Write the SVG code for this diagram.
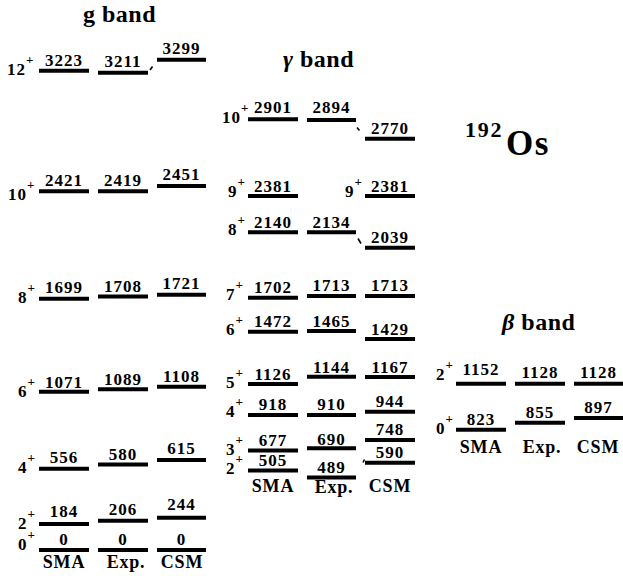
<svg xmlns="http://www.w3.org/2000/svg" width="623" height="576" viewBox="0 0 623 576">
<style>
text{font-family:"Liberation Serif","Times New Roman",serif;font-weight:bold;fill:#000}
.n{font-size:17px;letter-spacing:1px;text-anchor:middle}
.s{font-size:17px;letter-spacing:1px}
.p{font-size:13px}
.lab{font-size:18px;letter-spacing:0.8px;text-anchor:middle}
.t{font-size:24px;letter-spacing:0.5px}
.gr{font-style:italic}
line.l{stroke:#000;stroke-width:4}
line.d{stroke:#000;stroke-width:1.6}
</style>
<rect width="623" height="576" fill="#fff"/>

<g id="titles">
<text class="t" x="83" y="22">g band</text>
<text class="t" x="283" y="67"><tspan class="gr">γ</tspan> band</text>
<text class="t" x="502" y="330"><tspan class="gr">β</tspan> band</text>
<text x="465" y="137" style="font-size:22px;letter-spacing:1.8px">192</text>
<text x="506" y="155" style="font-size:35px;letter-spacing:1.5px">Os</text>
</g>

<!-- g band -->
<g id="g-spins">
<text class="s" x="7" y="75">12<tspan class="p" dy="-11">+</tspan></text>
<text class="s" x="8" y="200">10<tspan class="p" dy="-11">+</tspan></text>
<text class="s" x="18" y="302.7">8<tspan class="p" dy="-11">+</tspan></text>
<text class="s" x="18" y="396.7">6<tspan class="p" dy="-11">+</tspan></text>
<text class="s" x="18" y="473">4<tspan class="p" dy="-11">+</tspan></text>
<text class="s" x="18" y="529">2<tspan class="p" dy="-11">+</tspan></text>
<text class="s" x="18" y="550">0<tspan class="p" dy="-11">+</tspan></text>
</g>
<g id="g-sma">
<line class="l" x1="39" x2="89" y1="70.8" y2="70.8"/><text class="n" x="64" y="65.7">3223</text>
<line class="l" x1="39" x2="89" y1="191.3" y2="191.3"/><text class="n" x="64" y="185.7">2421</text>
<line class="l" x1="39" x2="89" y1="298.7" y2="298.7"/><text class="n" x="64" y="293.3">1699</text>
<line class="l" x1="39" x2="89" y1="391.7" y2="391.7"/><text class="n" x="64" y="387.7">1071</text>
<line class="l" x1="39" x2="89" y1="468.7" y2="468.7"/><text class="n" x="64" y="463">556</text>
<line class="l" x1="39" x2="89" y1="524" y2="524"/><text class="n" x="64" y="517">184</text>
<line class="l" x1="39" x2="89" y1="550" y2="550"/><text class="n" x="64" y="545">0</text>
<text class="lab" x="64" y="568">SMA</text>
</g>
<g id="g-exp">
<line class="l" x1="98" x2="148" y1="72.7" y2="72.7"/><text class="n" x="123" y="66.7">3211</text>
<line class="l" x1="98" x2="148" y1="191.3" y2="191.3"/><text class="n" x="123" y="185.7">2419</text>
<line class="l" x1="98" x2="148" y1="296.5" y2="296.5"/><text class="n" x="123" y="291.7">1708</text>
<line class="l" x1="98" x2="148" y1="389.3" y2="389.3"/><text class="n" x="123" y="385">1089</text>
<line class="l" x1="98" x2="148" y1="464.5" y2="464.5"/><text class="n" x="123" y="460">580</text>
<line class="l" x1="98" x2="148" y1="520.7" y2="520.7"/><text class="n" x="123" y="515">206</text>
<line class="l" x1="98" x2="148" y1="550" y2="550"/><text class="n" x="123" y="545">0</text>
<text class="lab" x="126" y="568">Exp.</text>
</g>
<g id="g-csm">
<line class="l" x1="157" x2="206" y1="59.8" y2="59.8"/><text class="n" x="181.5" y="54.3">3299</text>
<line class="l" x1="157" x2="206" y1="186" y2="186"/><text class="n" x="181.5" y="180">2451</text>
<line class="l" x1="157" x2="206" y1="294.8" y2="294.8"/><text class="n" x="181.5" y="289.3">1721</text>
<line class="l" x1="157" x2="206" y1="386.8" y2="386.8"/><text class="n" x="181.5" y="381.7">1108</text>
<line class="l" x1="157" x2="206" y1="460" y2="460"/><text class="n" x="181.5" y="454">615</text>
<line class="l" x1="157" x2="206" y1="517.7" y2="517.7"/><text class="n" x="181.5" y="510">244</text>
<line class="l" x1="157" x2="206" y1="550" y2="550"/><text class="n" x="181.5" y="545">0</text>
<text class="lab" x="182" y="568">CSM</text>
</g>

<!-- gamma band -->
<g id="gamma-spins">
<text class="s" x="222" y="123">10<tspan class="p" dy="-11">+</tspan></text>
<text class="s" x="228" y="197">9<tspan class="p" dy="-11">+</tspan></text>
<text class="s" x="345" y="197">9<tspan class="p" dy="-11">+</tspan></text>
<text class="s" x="228" y="235">8<tspan class="p" dy="-11">+</tspan></text>
<text class="s" x="226" y="300">7<tspan class="p" dy="-11">+</tspan></text>
<text class="s" x="226" y="335">6<tspan class="p" dy="-11">+</tspan></text>
<text class="s" x="226" y="388">5<tspan class="p" dy="-11">+</tspan></text>
<text class="s" x="226" y="417">4<tspan class="p" dy="-11">+</tspan></text>
<text class="s" x="226" y="455">3<tspan class="p" dy="-11">+</tspan></text>
<text class="s" x="226" y="474">2<tspan class="p" dy="-11">+</tspan></text>
</g>
<g id="gamma-sma">
<line class="l" x1="248" x2="298" y1="119.3" y2="119.3"/><text class="n" x="273" y="113">2901</text>
<line class="l" x1="248" x2="298" y1="196" y2="196"/><text class="n" x="273" y="192">2381</text>
<line class="l" x1="248" x2="298" y1="232.3" y2="232.3"/><text class="n" x="273" y="228">2140</text>
<line class="l" x1="248" x2="298" y1="297.7" y2="297.7"/><text class="n" x="273" y="293">1702</text>
<line class="l" x1="248" x2="298" y1="331.7" y2="331.7"/><text class="n" x="273" y="327">1472</text>
<line class="l" x1="248" x2="298" y1="384" y2="384"/><text class="n" x="273" y="380">1126</text>
<line class="l" x1="248" x2="298" y1="415" y2="415"/><text class="n" x="273" y="410">918</text>
<line class="l" x1="248" x2="298" y1="450.5" y2="450.5"/><text class="n" x="273" y="446">677</text>
<line class="l" x1="248" x2="298" y1="470.5" y2="470.5"/><text class="n" x="273" y="466">505</text>
<text class="lab" x="273" y="492">SMA</text>
</g>
<g id="gamma-exp">
<line class="l" x1="307" x2="356" y1="120" y2="120"/><text class="n" x="331.5" y="113">2894</text>
<line class="l" x1="307" x2="356" y1="232.3" y2="232.3"/><text class="n" x="331.5" y="228">2134</text>
<line class="l" x1="307" x2="356" y1="296" y2="296"/><text class="n" x="331.5" y="291">1713</text>
<line class="l" x1="307" x2="356" y1="331" y2="331"/><text class="n" x="331.5" y="327">1465</text>
<line class="l" x1="307" x2="356" y1="376.7" y2="376.7"/><text class="n" x="331.5" y="373">1144</text>
<line class="l" x1="307" x2="356" y1="415" y2="415"/><text class="n" x="331.5" y="410">910</text>
<line class="l" x1="307" x2="356" y1="448.3" y2="448.3"/><text class="n" x="331.5" y="444.5">690</text>
<line class="l" x1="307" x2="356" y1="477.5" y2="477.5"/><text class="n" x="331.5" y="472.5">489</text>
<text class="lab" x="334" y="493">Exp.</text>
</g>
<g id="gamma-csm">
<line class="l" x1="365" x2="415" y1="138.7" y2="138.7"/><text class="n" x="390" y="134">2770</text>
<line class="l" x1="365" x2="415" y1="196" y2="196"/><text class="n" x="390" y="192">2381</text>
<line class="l" x1="365" x2="415" y1="247.7" y2="247.7"/><text class="n" x="390" y="243">2039</text>
<line class="l" x1="365" x2="415" y1="296" y2="296"/><text class="n" x="390" y="291">1713</text>
<line class="l" x1="365" x2="415" y1="339" y2="339"/><text class="n" x="390" y="335">1429</text>
<line class="l" x1="365" x2="415" y1="377" y2="377"/><text class="n" x="390" y="373">1167</text>
<line class="l" x1="365" x2="415" y1="411.7" y2="411.7"/><text class="n" x="390" y="407">944</text>
<line class="l" x1="365" x2="415" y1="440" y2="440"/><text class="n" x="390" y="435">748</text>
<line class="l" x1="365" x2="415" y1="462.7" y2="462.7"/><text class="n" x="390" y="458">590</text>
<text class="lab" x="390" y="492">CSM</text>
</g>

<!-- beta band -->
<g id="beta-spins">
<text class="s" x="436" y="380">2<tspan class="p" dy="-11">+</tspan></text>
<text class="s" x="436" y="434">0<tspan class="p" dy="-11">+</tspan></text>
</g>
<g id="beta-sma">
<line class="l" x1="456" x2="506" y1="383.7" y2="383.7"/><text class="n" x="481" y="375">1152</text>
<line class="l" x1="456" x2="506" y1="429.7" y2="429.7"/><text class="n" x="481" y="425">823</text>
<text class="lab" x="481" y="453">SMA</text>
</g>
<g id="beta-exp">
<line class="l" x1="515" x2="565" y1="383.7" y2="383.7"/><text class="n" x="540" y="378.3">1128</text>
<line class="l" x1="515" x2="565" y1="422.7" y2="422.7"/><text class="n" x="540" y="418.3">855</text>
<text class="lab" x="542" y="453">Exp.</text>
</g>
<g id="beta-csm">
<line class="l" x1="574" x2="623" y1="383.7" y2="383.7"/><text class="n" x="598.5" y="378.3">1128</text>
<line class="l" x1="574" x2="623" y1="418" y2="418"/><text class="n" x="598.5" y="413.3">897</text>
<text class="lab" x="598" y="453">CSM</text>
</g>

<g id="connectors">
<line class="d" x1="150" y1="70" x2="152.5" y2="66.5"/>
<line class="d" x1="357" y1="127.5" x2="359.5" y2="130.5"/>
<line class="d" x1="358" y1="238.5" x2="361" y2="243.5"/>
<line class="d" x1="363" y1="462.5" x2="364.5" y2="459.5"/>
</g>
</svg>
